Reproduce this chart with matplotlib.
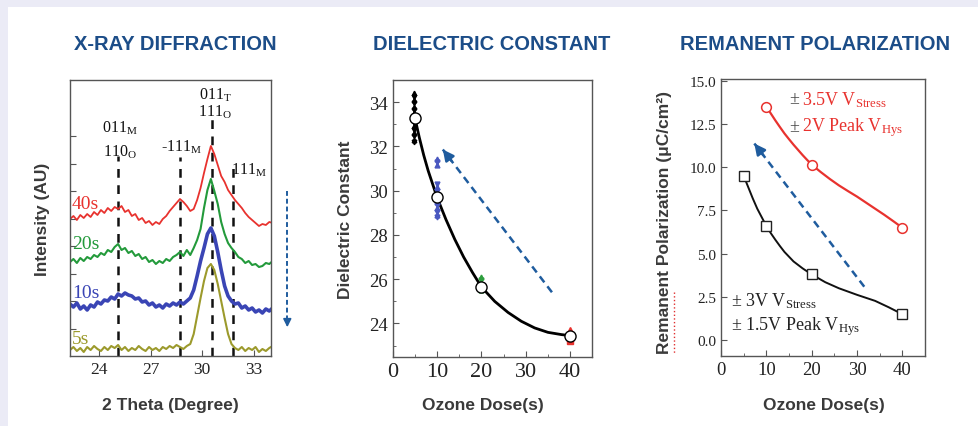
import numpy as np
import matplotlib
matplotlib.use('Agg')
import matplotlib.pyplot as plt
from matplotlib.lines import Line2D
from matplotlib.patches import Rectangle

plt.rcParams['font.family'] = 'Liberation Serif'
plt.rcParams['mathtext.fontset'] = 'custom'
plt.rcParams['mathtext.rm'] = 'Liberation Serif'
plt.rcParams['mathtext.it'] = 'Liberation Serif:italic'
plt.rcParams['mathtext.bf'] = 'Liberation Serif:bold'

W, H = 979, 427

# ---------------- data ----------------
# XRD scans, 2theta from 22.3 in 0.2 deg steps (intensity in arbitrary units)
theta = np.round(22.3 + 0.2 * np.arange(60), 1)
xrd_40s = [137, 140, 136, 141, 138, 142, 139, 144, 141, 146, 143, 148, 145, 149, 147,
           150, 144, 146, 140, 142, 136, 138, 133, 135, 131, 134, 132, 137, 140, 145,
           149, 153, 157, 154, 150, 145, 147, 156, 168, 183, 197, 210, 202, 191, 180,
           174, 166, 161, 156, 152, 148, 143, 139, 136, 133, 130, 132, 131, 134, 133]
xrd_20s = [94, 97, 93, 98, 95, 99, 97, 101, 99, 103, 101, 106, 104, 109, 112,
           106, 108, 103, 105, 100, 102, 97, 99, 94, 96, 92, 95, 93, 97, 95,
           99, 101, 104, 100, 106, 101, 108, 116, 127, 148, 166, 177, 165, 152, 134,
           122, 113, 108, 104, 99, 97, 93, 95, 91, 92, 89, 90, 93, 92, 95]
xrd_10s = [52, 49, 53, 47, 50, 46, 51, 49, 54, 52, 56, 55, 59, 57, 62,
           60, 63, 61, 60, 57, 58, 54, 55, 51, 53, 49, 51, 48, 52, 50,
           53, 51, 54, 52, 55, 58, 66, 80, 95, 108, 122, 128, 120, 104, 86,
           70, 60, 55, 52, 53, 48, 50, 46, 48, 44, 46, 43, 47, 45, 48]
xrd_5s = [6, 9, 5, 8, 4, 9, 6, 10, 7, 5, 9, 6, 10, 8, 11,
          6, 9, 5, 8, 6, 10, 7, 5, 9, 6, 8, 5, 9, 7, 10,
          8, 11, 9, 7, 10, 12, 22, 40, 58, 75, 88, 92, 86, 72, 55,
          38, 22, 12, 8, 6, 9, 5, 8, 6, 9, 4, 7, 5, 8, 10]
scan_names = ['40s', '20s', '10s', '5s']
scan_colors = ['#E8322E', '#239A3B', '#3A45B5', '#9C9A2C']
scan_widths = [1.3, 1.5, 2.6, 1.5]
scan_label_y = [152, 112, 64, 17]
peak_pos = [25.1, 28.7, 30.55, 31.8]
peak_top = [200, 199, 239, 192]

# dielectric constant
dose = [5, 10, 20, 40]
k_mean = [33.3, 29.7, 25.65, 23.45]
k_5s = [34.4, 34.25, 34.1, 33.95, 33.8, 33.65, 33.5, 33.35, 33.2, 33.05, 32.9,
        32.75, 32.6, 32.45, 32.3, 32.2]
k_10s = [31.45, 31.3, 31.15, 30.3, 30.15, 30.0, 29.85, 29.7, 29.5, 29.35, 29.2,
         29.05, 28.9, 28.8]
k_20s = [26.1, 25.95, 25.8, 25.65, 25.5]
k_40s = [23.7, 23.2]
k_fit_x = [5, 6, 7, 8, 9, 10, 12, 14, 16, 18, 20, 23, 26, 29, 32, 35, 38, 40]
k_fit_y = [33.3, 32.4, 31.6, 30.9, 30.3, 29.7, 28.7, 27.8, 27.0, 26.3, 25.65,
           25.0, 24.5, 24.1, 23.8, 23.6, 23.5, 23.45]

# remanent polarization
pr_hi_x = [10, 20, 40]
pr_hi = [13.5, 10.15, 6.5]
pr_lo_x = [5, 10, 20, 40]
pr_lo = [9.5, 6.6, 3.8, 1.5]
pr_hi_fit_x = [10, 11, 12, 13, 14, 15, 16, 17, 18, 19, 20, 22, 24, 26, 28, 30,
               32, 34, 36, 38, 40]
pr_hi_fit = [13.5, 13.1, 12.7, 12.32, 11.95, 11.62, 11.3, 11.0, 10.7, 10.42, 10.15,
             9.72, 9.32, 8.95, 8.62, 8.3, 7.95, 7.6, 7.25, 6.88, 6.5]
pr_lo_fit_x = [5, 6, 7, 8, 9, 10, 11, 12, 13, 14, 16, 18, 20, 23, 26, 30, 34, 37, 40]
pr_lo_fit = [9.5, 8.85, 8.2, 7.6, 7.1, 6.6, 6.18, 5.8, 5.44, 5.1, 4.55, 4.15, 3.8,
             3.35, 3.0, 2.62, 2.27, 1.9, 1.5]

TITLE_C = '#1C4D88'
LABEL_C = '#3a3a3a'
ARROW_C = '#1F5C9E'
SPINE_C = '#555555'


def px_axes(fig, l, t, r, b):
    return fig.add_axes([l / W, 1 - b / H, (r - l) / W, (b - t) / H])


def ftext(fig, x, y, s, **kw):
    return fig.text(x / W, 1 - y / H, s, **kw)


def style(ax):
    for sp in ax.spines.values():
        sp.set_color(SPINE_C)
        sp.set_linewidth(1.0)
    ax.tick_params(direction='in', which='both', colors=SPINE_C, labelcolor='#222222',
                   top=False, right=False)
    ax.tick_params(which='major', length=4)
    ax.tick_params(which='minor', length=2.5)


def dashed_arrow(ax, tail, head, lw=1.8, dash=(3, 2)):
    ax.plot([tail[0], head[0]], [tail[1], head[1]], color=ARROW_C, lw=lw, dashes=dash)
    dx, dy = head[0] - tail[0], head[1] - tail[1]
    ax.annotate('', xy=head, xytext=(head[0] - 0.08 * dx, head[1] - 0.08 * dy),
                arrowprops=dict(arrowstyle='-|>', color=ARROW_C, lw=lw,
                                mutation_scale=16, shrinkA=0, shrinkB=0))


fig = plt.figure(figsize=(W / 100, H / 100), dpi=100)
fig.patch.set_facecolor('#EBEBF6')
fig.add_artist(Rectangle((8 / W, 0), 1, 1 - 8 / H, transform=fig.transFigure,
                         facecolor='white', edgecolor='none', zorder=-10))

# ---------------- panel 1 : XRD ----------------
ax1 = px_axes(fig, 70, 81, 271, 357)
style(ax1)
for pos, top in zip(peak_pos, peak_top):
    ax1.plot([pos, pos], [0, top], color='#111111', lw=1.8, dashes=(3.5, 3), zorder=1)
for ys, c, lw in zip([xrd_40s, xrd_20s, xrd_10s, xrd_5s], scan_colors, scan_widths):
    ax1.plot(theta, ys, color=c, lw=lw, zorder=2)
for name, c, yl in zip(scan_names, scan_colors, scan_label_y):
    ax1.text(22.42, yl, name, color=c, fontsize=14, va='center', ha='left')
pk_kw = dict(fontsize=11.5, ha='center', va='center', color='#111111')
ax1.text(25.2, 229, r'011$_{\rm M}$', **pk_kw)
ax1.text(25.2, 205, r'110$_{\rm O}$', **pk_kw)
ax1.text(28.8, 210, r'-111$_{\rm M}$', **pk_kw)
ax1.text(30.75, 262, r'011$_{\rm T}$', **pk_kw)
ax1.text(30.75, 245, r'111$_{\rm O}$', **pk_kw)
ax1.text(32.7, 187, r'111$_{\rm M}$', **pk_kw)
ax1.set_xlim(22.3, 34.0)
ax1.set_ylim(0, 276)
ax1.set_xticks([24, 27, 30, 33])
ax1.set_yticks([27.5, 55, 82.5, 110, 137.5, 165, 192.5, 220])
ax1.set_yticklabels([])
ax1.tick_params(axis='x', labelsize=12.5)

# arrow beside XRD panel
fig.add_artist(Line2D([287.3 / W, 287.3 / W], [1 - 192 / H, 1 - 322 / H],
                      transform=fig.transFigure, color=ARROW_C, lw=1.4, dashes=(2.5, 1.5)))
fig.add_artist(matplotlib.patches.FancyArrowPatch(
    (287.3 / W, 1 - 318 / H), (287.3 / W, 1 - 331 / H), transform=fig.transFigure,
    arrowstyle='-|>', mutation_scale=12, color=ARROW_C, lw=1.2))

# ---------------- panel 2 : dielectric constant ----------------
ax2 = px_axes(fig, 392.7, 81, 592.3, 357.7)
style(ax2)
ax2.plot(k_fit_x, k_fit_y, color='black', lw=2.0, zorder=2)
mk = ['^', 'v']
for i, v in enumerate(k_5s):
    ax2.plot(4.9, v, marker=mk[i % 2], color='black', ms=3.3, ls='none', zorder=3)
for i, v in enumerate(k_10s):
    ax2.plot(10, v, marker=mk[i % 2], color='#4A58C0', ms=3.5, ls='none', zorder=3)
for i, v in enumerate(k_20s):
    ax2.plot(20, v, marker=mk[i % 2], color='#2E9E3E', ms=3.5, ls='none', zorder=3)
ax2.plot(40, k_40s[0], marker='^', color='#E8322E', ms=5, ls='none', zorder=3)
ax2.plot(40, k_40s[1], marker='s', color='#E8322E', ms=4, ls='none', zorder=3)
ax2.plot(dose, k_mean, 'o', mfc='white', mec='black', mew=1.0, ms=8, zorder=4)
dashed_arrow(ax2, (35.9, 25.41), (11.3, 31.86), lw=1.8, dash=(3, 2))
ax2.set_xlim(0, 45)
ax2.set_ylim(22.5, 35.0)
ax2.set_xticks([0, 10, 20, 30, 40])
ax2.set_xticks([5, 15, 25, 35], minor=True)
ax2.set_yticks([24, 26, 28, 30, 32, 34])
ax2.set_yticks(np.arange(23, 35, 1), minor=True)
ax2.tick_params(axis='x', labelsize=16)
ax2.tick_params(axis='y', labelsize=13.5)

# ---------------- panel 3 : remanent polarization ----------------
ax3 = px_axes(fig, 721, 80, 925, 356.7)
style(ax3)
ax3.plot(pr_hi_fit_x, pr_hi_fit, color='#E8322E', lw=1.6, zorder=2)
ax3.plot(pr_lo_fit_x, pr_lo_fit, color='#111111', lw=1.4, zorder=2)
ax3.plot(pr_hi_x, pr_hi, 'o', mfc='white', mec='#E8322E', mew=1.1, ms=7, zorder=3)
ax3.plot(pr_lo_x, pr_lo, 's', mfc='white', mec='#222222', mew=1.0, ms=7, zorder=3)
dashed_arrow(ax3, (31.6, 3.09), (7.35, 11.37), lw=1.8, dash=(3, 2))
ax3.set_xlim(0, 45)
ax3.set_ylim(-0.9, 15.1)
ax3.set_xticks([0, 10, 20, 30, 40])
ax3.set_xticks([5, 15, 25, 35], minor=True)
ax3.set_yticks(np.arange(0, 15.1, 2.5))
ax3.set_yticklabels(['%.1f' % v for v in np.arange(0, 15.1, 2.5)])
ax3.tick_params(axis='x', labelsize=13.5)
ax3.tick_params(axis='y', labelsize=11)

ann = dict(fontsize=13, va='center', ha='left')
ftext(fig, 789, 100, '±', color='#444444', **ann)
ftext(fig, 802, 100, r'3.5V V$_{\rm Stress}$', color='#E8322E', **ann)
ftext(fig, 789, 128, '±', color='#444444', **ann)
ftext(fig, 802, 128, r'2V Peak V$_{\rm Hys}$', color='#E8322E', **ann)
ftext(fig, 731, 301, r'± 3V V$_{\rm Stress}$', color='#222222', **ann)
ftext(fig, 731, 327, r'± 1.5V Peak V$_{\rm Hys}$', color='#222222', **ann)

# ---------------- titles and axis labels ----------------
tkw = dict(fontsize=14.5, fontweight='bold', color=TITLE_C, family='Liberation Sans',
           ha='center', va='center')
ftext(fig, 175.5, 45, 'X-RAY DIFFRACTION', **tkw)
ftext(fig, 491.7, 45, 'DIELECTRIC CONSTANT', **tkw)
ftext(fig, 815.5, 45, 'REMANENT POLARIZATION', **tkw)

lkw = dict(fontsize=12.5, fontweight='bold', color=LABEL_C, family='Liberation Sans',
           ha='center', va='center')
ftext(fig, 170, 406, '2 Theta (Degree)', **lkw)
ftext(fig, 483, 406, 'Ozone Dose(s)', **lkw)
ftext(fig, 824, 406, 'Ozone Dose(s)', **lkw)
ftext(fig, 42, 219, 'Intensity (AU)', rotation=90, **lkw)
ftext(fig, 346, 220, 'Dielectric Constant', rotation=90, **lkw)
ftext(fig, 665, 222, 'Remanent Polarization (μC/cm²)', rotation=90, **lkw)
# spell-check squiggle under "Remanent"
fig.add_artist(Line2D([673.5 / W, 673.5 / W], [1 - 293 / H, 1 - 355 / H],
                      transform=fig.transFigure, color='#E03030', lw=1.0, ls=':'))

fig.savefig('out.png', dpi=100, facecolor=fig.get_facecolor())
